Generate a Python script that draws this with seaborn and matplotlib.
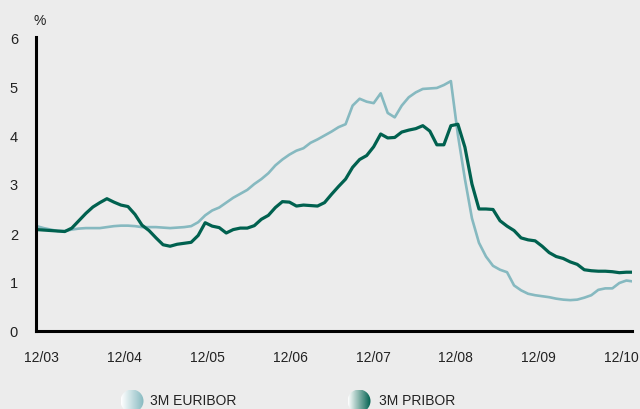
import matplotlib
matplotlib.use("Agg")
import numpy as np
import pandas as pd
import matplotlib.pyplot as plt
from matplotlib.patches import Circle
from matplotlib.transforms import ScaledTranslation
import seaborn as sns

# monthly observations, 12/2003 onward (%)
euribor = [2.14, 2.10, 2.07, 2.04, 2.04, 2.07, 2.09, 2.10, 2.10, 2.10,
           2.12, 2.14, 2.15, 2.15, 2.14, 2.12, 2.12, 2.12, 2.11, 2.10,
           2.11, 2.12, 2.14, 2.22, 2.36, 2.46, 2.52, 2.62, 2.72, 2.80,
           2.88, 3.00, 3.10, 3.22, 3.38, 3.50, 3.60, 3.68, 3.73, 3.84,
           3.91, 3.99, 4.07, 4.16, 4.22, 4.60, 4.74, 4.68, 4.65, 4.85,
           4.45, 4.36, 4.60, 4.77, 4.87, 4.94, 4.95, 4.96, 5.02, 5.10,
           4.00, 3.10, 2.30, 1.80, 1.52, 1.33, 1.25, 1.20, 0.93, 0.83,
           0.76, 0.73, 0.71, 0.69, 0.66, 0.64, 0.63, 0.64, 0.68, 0.73,
           0.84, 0.87, 0.87, 0.98, 1.03, 1.01]
pribor = [2.07, 2.06, 2.05, 2.04, 2.03, 2.10, 2.25, 2.40, 2.53, 2.62,
          2.70, 2.63, 2.57, 2.54, 2.38, 2.16, 2.05, 1.90, 1.76, 1.73,
          1.77, 1.79, 1.81, 1.95, 2.21, 2.14, 2.11, 2.00, 2.07, 2.10,
          2.10, 2.15, 2.28, 2.36, 2.52, 2.64, 2.63, 2.55, 2.57, 2.56,
          2.55, 2.62, 2.79, 2.95, 3.10, 3.34, 3.50, 3.58, 3.76, 4.02,
          3.94, 3.95, 4.06, 4.10, 4.13, 4.19, 4.08, 3.80, 3.80, 4.19,
          4.22, 3.75, 3.00, 2.49, 2.49, 2.48, 2.25, 2.14, 2.05, 1.90,
          1.86, 1.84, 1.73, 1.60, 1.52, 1.48, 1.41, 1.36, 1.25, 1.23,
          1.22, 1.22, 1.21, 1.19, 1.20, 1.20]
series_names = ["3M EURIBOR", "3M PRIBOR"]
x_ticks = [0, 12, 24, 36, 48, 60, 72, 84]
x_labels = ["12/03", "12/04", "12/05", "12/06", "12/07", "12/08", "12/09", "12/10"]
y_ticks = [0, 1, 2, 3, 4, 5, 6]

colors = {"3M EURIBOR": "#86b9c0", "3M PRIBOR": "#00614f"}
widths = {"3M EURIBOR": 1.9, "3M PRIBOR": 2.3}
bg = "#ececec"
txt = "#222222"

months = np.arange(len(euribor))
df = pd.concat([
    pd.DataFrame({"month": months, "rate": euribor, "series": series_names[0]}),
    pd.DataFrame({"month": months, "rate": pribor, "series": series_names[1]}),
])

sns.set_style("white")
plt.rcParams["font.family"] = ["Liberation Sans", "DejaVu Sans"]

fig = plt.figure(figsize=(6.4, 4.1), dpi=100, facecolor=bg)
ax = fig.add_axes([36 / 640, 78 / 410, 596 / 640, 294 / 410])
ax.set_facecolor(bg)

for name in series_names:
    sub = df[df["series"] == name]
    sns.lineplot(data=sub, x="month", y="rate", color=colors[name],
                 lw=widths[name], ax=ax, legend=False)

ax.set_xlim(-0.1, 84.8)
ax.set_ylim(0, 6)
ax.set_xticks(x_ticks)
ax.set_xticklabels(x_labels, fontsize=10, color=txt)
ax.set_yticks(y_ticks)
ax.set_yticklabels([str(v) for v in y_ticks], fontsize=10.5, color=txt)
ax.tick_params(axis="x", length=0, pad=14)
ax.tick_params(axis="y", length=4, width=2, pad=9, color="black")
ax.set_xlabel("")
ax.set_ylabel("")
for s in ["top", "right"]:
    ax.spines[s].set_visible(False)
for s in ["left", "bottom"]:
    ax.spines[s].set_linewidth(2.2)
    ax.spines[s].set_color("black")

# month labels drift slightly left of their month across the axis
for k, lab in enumerate(ax.get_xticklabels()):
    dx = (5.0 - 1.4 * k) / 100
    lab.set_transform(lab.get_transform() + ScaledTranslation(dx, 0, fig.dpi_scale_trans))

fig.text(34 / 640, 1 - 21 / 410, "%", fontsize=10, color=txt,
         ha="left", va="center")

# legend with shaded round markers
def shaded_marker(cx, cy, cmap_colors, label, tx):
    r = 11.5
    lax = fig.add_axes([(cx - r) / 640, 1 - (cy + r) / 410, 2 * r / 640, 2 * r / 410])
    lax.set_axis_off()
    grad = np.linspace(0, 1, 64).reshape(1, -1)
    cmap = matplotlib.colors.LinearSegmentedColormap.from_list("g", cmap_colors)
    im = lax.imshow(grad, cmap=cmap, extent=[0, 1, 0, 1], aspect="auto")
    circ = Circle((0.5, 0.5), 0.5, transform=lax.transData)
    im.set_clip_path(circ)
    fig.text(tx / 640, 1 - 401 / 410, label, fontsize=10, color=txt,
             ha="left", va="center")

shaded_marker(132, 402, ["#ffffff", "#86b9c0"], series_names[0], 150)
shaded_marker(359, 402, ["#ffffff", "#00614f"], series_names[1], 379)

fig.savefig("out.png", dpi=100, facecolor=bg)
